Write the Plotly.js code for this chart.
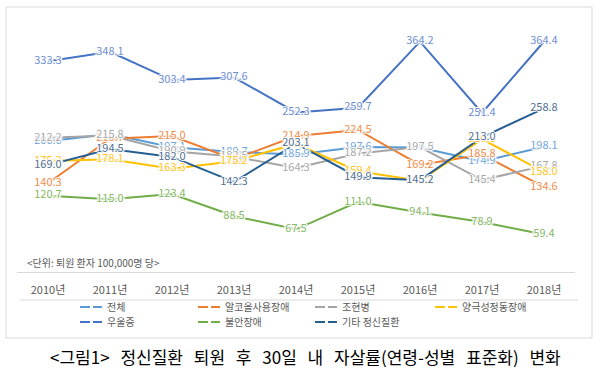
<!DOCTYPE html>
<html>
<head>
<meta charset="utf-8">
<script src="https://cdn.plot.ly/plotly-3.0.1.min.js"></script>
<style>html,body{margin:0;padding:0;background:#fff;}#chart{width:600px;height:386px;}</style>
</head>
<body>
<div id="chart"></div>
<script>
const years = ["2010년","2011년","2012년","2013년","2014년","2015년","2016년","2017년","2018년"];
const seriesNames = ["전체","알코올사용장애","조현병","양극성정동장애","우울증","불안장애","기타 정신질환"];
const total      = [206.6, 218.0, 197.1, 189.7, 185.9, 197.6, 196.8, 174.9, 198.1];
const alcohol    = [140.3, 210.7, 215.0, 178.3, 214.9, 224.5, 169.2, 185.8, 134.6];
const schizo     = [212.2, 215.8, 190.9, 182.5, 164.3, 187.2, 197.5, 145.4, 167.8];
const bipolar    = [175.3, 178.1, 163.3, 175.2, 202.5, 159.4, 144.2, 210.1, 158.0];
const depression = [333.3, 348.1, 303.4, 307.6, 252.3, 259.7, 364.2, 251.4, 364.4];
const anxiety    = [120.7, 115.0, 123.4, 88.5, 67.5, 111.0, 94.1, 78.9, 59.4];
const other      = [169.0, 194.5, 182.0, 142.3, 203.1, 149.9, 145.2, 213.0, 258.8];
const unitNote = "<단위: 퇴원 환자 100,000명 당>";
const caption = "<그림1> 정신질환 퇴원 후 30일 내 자살률(연령-성별 표준화) 변화";

const values = [total, alcohol, schizo, bipolar, depression, anxiety, other];
const colors = ["#5B9BD5","#ED7D31","#A5A5A5","#FFC000","#4472C4","#70AD47","#255E91"];
const labelColors = ["#6FA6DC","#F08C4A","#A8A8A8","#FFC525","#6E8FD4","#84B864","#4F6F92"];
const font = "'Noto Sans CJK KR', 'Noto Sans', sans-serif";

const W = 558, H = 253, L = 17, T = 19;
const px = x => (x - L) / W;
const py = y => (T + H - y) / H;

const legendIds = ["legend","legend2","legend3","legend4","legend5","legend6","legend7"];
const legendPos = [[67,307],[185,307],[302,307],[422,307],[67,322],[185,322],[302,322]];

const halo = "1px 0 0 #fff, -1px 0 0 #fff, 0 1px 0 #fff, 0 -1px 0 #fff, 2px 0 1px #fff, -2px 0 1px #fff";

const traces = [];
values.forEach((v, i) => {
  traces.push({
    type: "scatter", mode: "lines",
    x: years, y: v,
    line: {color: colors[i], width: 2},
    showlegend: false, hoverinfo: "skip"
  });
});
values.forEach((v, i) => {
  traces.push({
    type: "scatter", mode: "text",
    x: years, y: v,
    text: v.map(d => d.toFixed(1)),
    textposition: "middle center",
    textfont: {family: font, size: 11, color: labelColors[i], shadow: halo},
    showlegend: false, hoverinfo: "skip", cliponaxis: false
  });
});
values.forEach((v, i) => {
  traces.push({
    type: "scatter", mode: "lines",
    x: [null], y: [null],
    name: seriesNames[i],
    line: {color: colors[i], width: 2, dash: "0px,8px,10px,3px,10px,30px"},
    legend: legendIds[i],
    hoverinfo: "skip"
  });
});

const esc = s => s.replace(/</g, "&lt;").replace(/>/g, "&gt;");

const layout = {
  width: 600, height: 386,
  margin: {l: L, r: 600 - L - W, t: T, b: 386 - T - H, pad: 0},
  paper_bgcolor: "#fff", plot_bgcolor: "#fff",
  font: {family: font},
  xaxis: {
    type: "category", range: [-0.5, 8.5], fixedrange: true,
    showgrid: false, zeroline: false, showline: true, linecolor: "#D9D9D9", linewidth: 1,
    ticks: "", ticklabelstandoff: 8,
    tickfont: {family: font, size: 11, color: "#595959"}
  },
  yaxis: {
    range: [0, 400], fixedrange: true,
    showgrid: false, zeroline: false, showline: false, showticklabels: false, ticks: ""
  },
  shapes: [
    {type: "rect", xref: "paper", yref: "paper", x0: px(6), x1: px(592), y0: py(338), y1: py(7),
     line: {color: "#D9D9D9", width: 1}, layer: "below"},
    {type: "line", xref: "paper", yref: "paper", x0: px(20), x1: px(578), y0: py(300), y1: py(300),
     line: {color: "#D9D9D9", width: 1}}
  ],
  annotations: [
    {xref: "paper", yref: "paper", x: px(25), y: py(262), xanchor: "left", yanchor: "middle",
     text: esc(unitNote), showarrow: false,
     font: {family: font, size: 10, color: "#595959"}},
    {xref: "paper", yref: "paper", x: px(306), y: py(356), xanchor: "center", yanchor: "middle",
     text: '<span style="word-spacing:7px">' + esc(caption) + '</span>', showarrow: false,
     font: {family: font, size: 17, color: "#000"}}
  ]
};
legendIds.forEach((id, i) => {
  layout[id] = {
    x: px(legendPos[i][0]), y: py(legendPos[i][1]), xanchor: "left", yanchor: "middle",
    orientation: "v", font: {family: font, size: 10, color: "#595959"},
    bgcolor: "rgba(0,0,0,0)", borderwidth: 0
  };
});

Plotly.newPlot("chart", traces, layout, {displayModeBar: false, staticPlot: true});
</script>
</body>
</html>
